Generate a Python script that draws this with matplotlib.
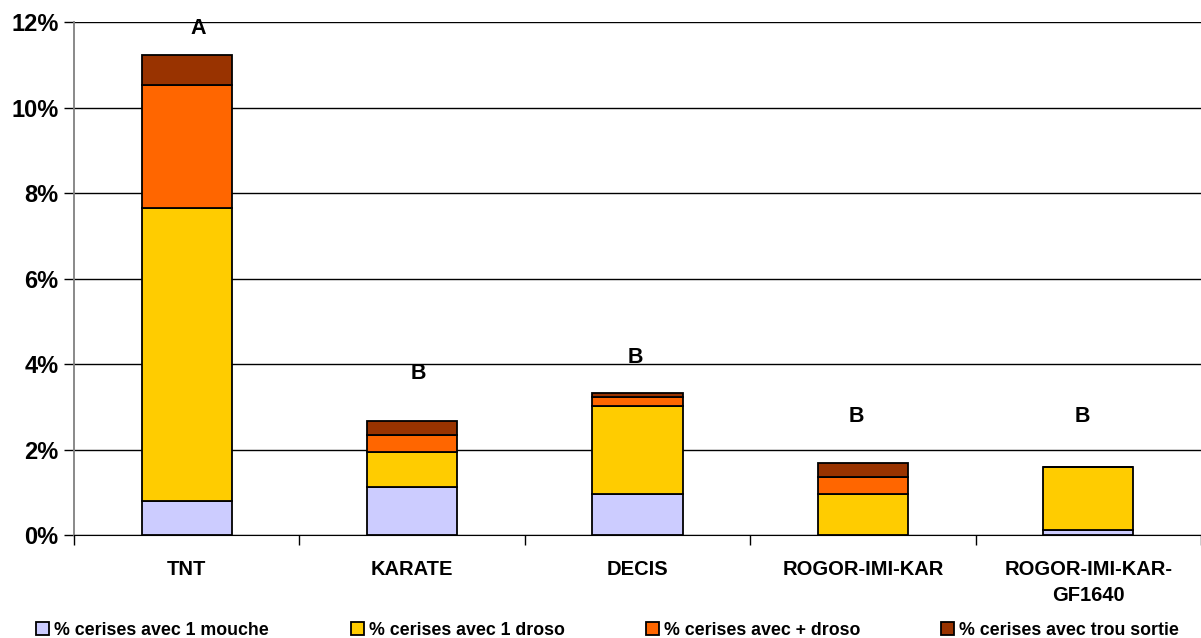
import numpy as np
from matplotlib import pyplot as plt
from matplotlib.ticker import FuncFormatter

plt.rcParams['font.family'] = ['Liberation Sans', 'DejaVu Sans']

categories = ['TNT', 'KARATE', 'DECIS', 'ROGOR-IMI-KAR', 'ROGOR-IMI-KAR-\nGF1640']
mouche = [0.80, 1.12, 0.96, 0.00, 0.12]
droso1 = [6.85, 0.82, 2.06, 0.96, 1.47]
droso_plus = [2.88, 0.40, 0.21, 0.40, 0.00]
trou = [0.70, 0.33, 0.09, 0.32, 0.00]
letters = ['A', 'B', 'B', 'B', 'B']
letter_y = [11.85, 3.77, 4.16, 2.78, 2.78]

series = [
    ('% cerises avec 1 mouche', mouche, '#ccccff'),
    ('% cerises avec 1 droso', droso1, '#ffcc00'),
    ('% cerises avec + droso', droso_plus, '#ff6600'),
    ('% cerises avec trou sortie', trou, '#993300'),
]

fig = plt.figure(figsize=(12.01, 6.38), dpi=100)
ax = fig.add_axes([0.0616, 0.1614, 0.9384, 0.8041])

x = np.arange(len(categories))
bottom = np.zeros(len(categories))
bars = []
for label, vals, color in series:
    vals = np.array(vals)
    b = ax.bar(x, vals, width=0.4, bottom=bottom, color=color, edgecolor='black',
               linewidth=1.3, label=label, zorder=3)
    bars.append(b)
    bottom += vals

# lettres de significativité (petit décalage horizontal comme dans l'original)
letter_dx = [0.05, 0.027, -0.01, -0.03, -0.027]
for xi, t, yv, dx in zip(x, letters, letter_y, letter_dx):
    ax.text(xi + dx, yv, t, ha='center', va='center', fontsize=15.5, fontweight='bold')

ax.set_xlim(-0.5, len(categories) - 0.5)
ax.set_ylim(0, 12)
ax.set_yticks(range(0, 13, 2))
ax.yaxis.set_major_formatter(FuncFormatter(lambda v, p: '%d%%' % v))
ax.yaxis.grid(True, color='black', linewidth=1, zorder=0)
ax.set_axisbelow(True)

ax.set_xticks(x)
ax.set_xticklabels(categories, fontsize=14.5, fontweight='bold', va='top', linespacing=1.45)
ax.tick_params(axis='x', length=0, pad=18)
ax.set_xticks(np.arange(-0.5, len(categories)), minor=True)
ax.tick_params(axis='x', which='minor', length=7, color='black', width=1)
ax.tick_params(axis='y', length=7, width=1, color='black', labelsize=17, pad=4)
for lab in ax.get_yticklabels():
    lab.set_fontweight('bold')

ax.spines['top'].set_visible(False)
ax.spines['right'].set_visible(False)
ax.spines['left'].set_color('#808080')
ax.spines['left'].set_linewidth(1.3)
ax.spines['bottom'].set_color('black')

# legend entries placed like the original (one per column)
leg_x = [34, 349, 644, 939]
for (label, vals, color), b, px in zip(series, bars, leg_x):
    lg = fig.legend([b], [label], loc='lower left', bbox_to_anchor=(px / 1201, -0.004),
                    frameon=False, prop={'weight': 'bold', 'size': 12.8},
                    handlelength=0.75, handleheight=0.75, handletextpad=0.3,
                    borderaxespad=0.1, borderpad=0.0)

fig.savefig('out.png', dpi=100)
